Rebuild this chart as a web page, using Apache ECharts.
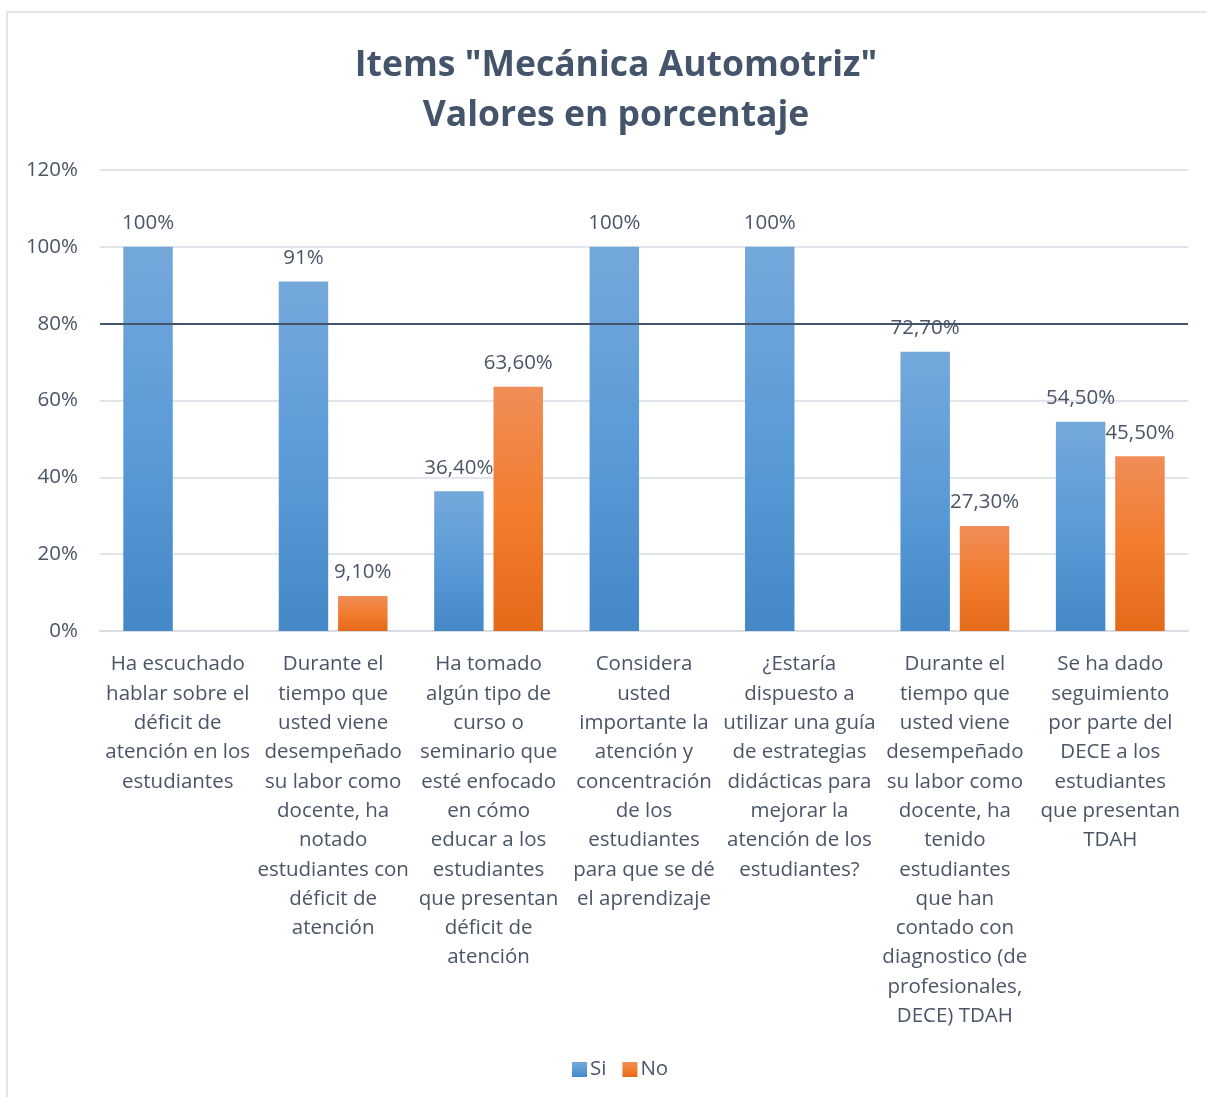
<!DOCTYPE html>
<html>
<head>
<meta charset="utf-8">
<script src="https://cdn.jsdelivr.net/npm/echarts@6/dist/echarts.min.js"></script>
<style>
html,body{margin:0;padding:0;background:#fff;}
#main{width:1207px;height:1097px;}
</style>
</head>
<body>
<div id="main"></div>
<script>
var categories = [
  "Ha escuchado\nhablar sobre el\ndéficit de\natención en los\nestudiantes",
  "Durante el\ntiempo que\nusted viene\ndesempeñado\nsu labor como\ndocente, ha\nnotado\nestudiantes con\ndéficit de\natención",
  "Ha tomado\nalgún tipo de\ncurso o\nseminario que\nesté enfocado\nen cómo\neducar a los\nestudiantes\nque presentan\ndéficit de\natención",
  "Considera\nusted\nimportante la\natención y\nconcentración\nde los\nestudiantes\npara que se dé\nel aprendizaje",
  "¿Estaría\ndispuesto a\nutilizar una guía\nde estrategias\ndidácticas para\nmejorar la\natención de los\nestudiantes?",
  "Durante el\ntiempo que\nusted viene\ndesempeñado\nsu labor como\ndocente, ha\ntenido\nestudiantes\nque han\ncontado con\ndiagnostico (de\nprofesionales,\nDECE) TDAH",
  "Se ha dado\nseguimiento\npor parte del\nDECE a los\nestudiantes\nque presentan\nTDAH"
];
var siValues = [100, 91, 36.4, 100, 100, 72.7, 54.5];
var noValues = [null, 9.1, 63.6, null, null, 27.3, 45.5];
var siLabels = ["100%", "91%", "36,40%", "100%", "100%", "72,70%", "54,50%"];
var noLabels = ["", "9,10%", "63,60%", "", "", "27,30%", "45,50%"];
var yMin = 0, yMax = 120, yInterval = 20;
var referenceLine = 80;

var FONT = "'Open Sans', Lato, sans-serif";
var TXT = "#4a5568";
var FS = 20.5;

var chart = echarts.init(document.getElementById('main'), null, {renderer: 'canvas'});
chart.setOption({
  backgroundColor: '#ffffff',
  animation: false,
  graphic: [{
    type: 'rect',
    shape: {x: 7, y: 12, width: 1230, height: 1110},
    style: {fill: 'none', stroke: '#e2e5ea', lineWidth: 2},
    silent: true
  }],
  title: {
    text: 'Items "Mecánica Automotriz"\nValores en porcentaje',
    left: 611,
    textAlign: 'center',
    top: 36,
    textStyle: {fontFamily: FONT, fontSize: 35.5, fontWeight: 'bold', color: '#44546A', lineHeight: 50}
  },
  legend: {
    data: ['Si', 'No'],
    bottom: 12,
    left: 567,
    itemWidth: 15,
    itemHeight: 15,
    itemGap: 16,
    icon: 'rect',
    textStyle: {fontFamily: FONT, fontSize: FS, color: TXT, padding: [0, 0, 0, -2]}
  },
  grid: {left: 100, right: 19, top: 170, bottom: 466, containLabel: false},
  xAxis: {
    type: 'category',
    data: categories,
    axisTick: {show: false},
    axisLine: {lineStyle: {color: '#d9dce1', width: 2}},
    axisLabel: {
      interval: 0,
      margin: 19,
      fontFamily: FONT,
      fontSize: FS,
      lineHeight: 29.3,
      color: TXT,
      align: 'center'
    }
  },
  yAxis: {
    type: 'value',
    min: yMin,
    max: yMax,
    interval: yInterval,
    axisLine: {show: false},
    axisTick: {show: false},
    splitLine: {lineStyle: {color: '#e1e4e9', width: 2}},
    axisLabel: {
      margin: 22,
      fontFamily: FONT,
      fontSize: FS,
      color: TXT,
      formatter: function (v) { return v + '%'; }
    }
  },
  series: [
    {
      name: 'Si',
      type: 'bar',
      data: siValues,
      barGap: '20%',
      barCategoryGap: '30%',
      itemStyle: {
        color: {type: 'linear', x: 0, y: 0, x2: 0, y2: 1,
          colorStops: [{offset: 0, color: '#74a8db'}, {offset: 0.5, color: '#5b9bd8'}, {offset: 1, color: '#4488c7'}]}
      },
      label: {
        show: true, position: 'top', distance: 13,
        fontFamily: FONT, fontSize: FS, color: TXT,
        formatter: function (p) { return siLabels[p.dataIndex]; }
      },
      markLine: {
        silent: true,
        symbol: 'none',
        label: {show: false},
        lineStyle: {color: '#44546A', width: 2, type: 'solid'},
        data: [{yAxis: referenceLine}],
        z: 10
      }
    },
    {
      name: 'No',
      type: 'bar',
      data: noValues,
      itemStyle: {
        color: {type: 'linear', x: 0, y: 0, x2: 0, y2: 1,
          colorStops: [{offset: 0, color: '#f08d58'}, {offset: 0.5, color: '#f27d2e'}, {offset: 1, color: '#e46a19'}]}
      },
      label: {
        show: true, position: 'top', distance: 13,
        fontFamily: FONT, fontSize: FS, color: TXT,
        formatter: function (p) { return noLabels[p.dataIndex]; }
      }
    }
  ]
});
</script>
</body>
</html>
